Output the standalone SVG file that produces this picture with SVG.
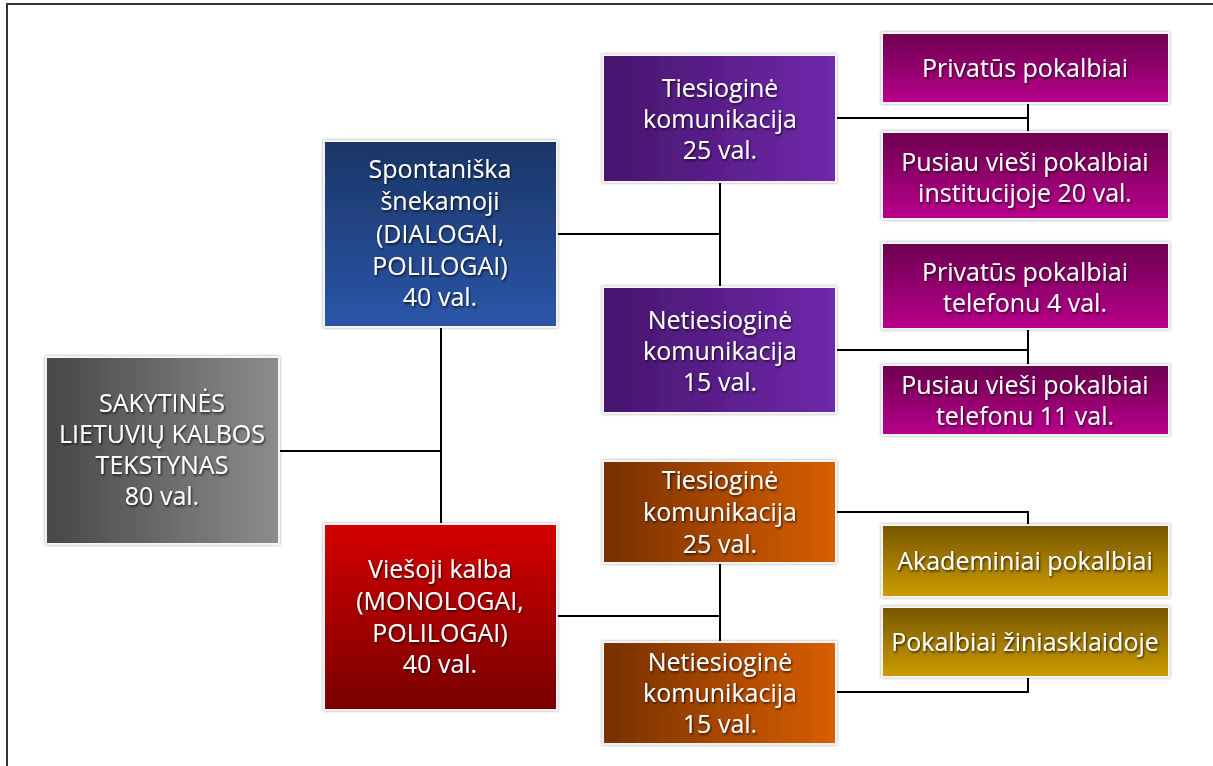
<svg xmlns="http://www.w3.org/2000/svg" width="1213" height="766" viewBox="0 0 1213 766">
<defs>
<linearGradient id="gGray" x1="0" y1="0" x2="1" y2="0"><stop offset="0" stop-color="#474747"/><stop offset="1" stop-color="#8c8c8c"/></linearGradient>
<linearGradient id="gBlue" x1="0" y1="0" x2="0" y2="1"><stop offset="0" stop-color="#1a3566"/><stop offset="1" stop-color="#2b56a8"/></linearGradient>
<linearGradient id="gRed" x1="0" y1="0" x2="0" y2="1"><stop offset="0" stop-color="#d40000"/><stop offset="1" stop-color="#780000"/></linearGradient>
<linearGradient id="gPurple" x1="0" y1="0" x2="1" y2="0"><stop offset="0" stop-color="#46156c"/><stop offset="1" stop-color="#7029ab"/></linearGradient>
<linearGradient id="gMag" x1="0" y1="0" x2="0" y2="1"><stop offset="0" stop-color="#6c004e"/><stop offset="1" stop-color="#b8008c"/></linearGradient>
<linearGradient id="gOrange" x1="0" y1="0" x2="1" y2="0"><stop offset="0" stop-color="#763005"/><stop offset="1" stop-color="#d95f05"/></linearGradient>
<linearGradient id="gGold" x1="0" y1="0" x2="0" y2="1"><stop offset="0" stop-color="#775600"/><stop offset="1" stop-color="#cc9c00"/></linearGradient>
<filter id="boxShadow" x="-10%" y="-10%" width="120%" height="120%">
<feDropShadow dx="0" dy="0" stdDeviation="1.5" flood-color="#000" flood-opacity="0.35"/>
</filter>
<filter id="txtShadow" x="-10%" y="-30%" width="120%" height="160%">
<feDropShadow dx="1" dy="1.5" stdDeviation="1" flood-color="#000" flood-opacity="0.75"/>
</filter>
</defs>
<style>
.box{stroke:#f4f4f4;stroke-width:2;filter:url(#boxShadow)}
.t{font-family:"Open Sans","Noto Sans","DejaVu Sans",sans-serif;font-size:25px;fill:#fff;text-anchor:middle;filter:url(#txtShadow)}
.c{fill:none;stroke:#000;stroke-width:2}
.frame{fill:none;stroke:#333;stroke-width:2}
</style>
<rect width="1213" height="766" fill="#fff"/>
<path class="frame" d="M7,766 V4 H1213"/>
<g id="connectors">
<path class="c" d="M279,451 H441 M441,327 V524"/>
<path class="c" d="M557,234 H720 M720,182 V287"/>
<path class="c" d="M836,118 H1028 M1028,103 V132"/>
<path class="c" d="M836,350 H1028 M1028,329 V365"/>
<path class="c" d="M557,616 H720 M720,563 V642"/>
<path class="c" d="M836,512 H1028 V525"/>
<path class="c" d="M836,692 H1028 V677"/>
</g>
<g id="root">
<rect class="box" x="46" y="357" width="233" height="187" fill="url(#gGray)"/>
<text class="t"><tspan x="162" y="412">SAKYTINĖS</tspan><tspan x="162" y="443">LIETUVIŲ KALBOS</tspan><tspan x="162" y="474">TEKSTYNAS</tspan><tspan x="162" y="505">80 val.</tspan></text>
</g>
<g id="spontaniska">
<rect class="box" x="324" y="141" width="233" height="186" fill="url(#gBlue)"/>
<text class="t"><tspan x="440" y="178">Spontaniška</tspan><tspan x="440" y="210">šnekamoji</tspan><tspan x="440" y="243">(DIALOGAI,</tspan><tspan x="440" y="275">POLILOGAI)</tspan><tspan x="440" y="306">40 val.</tspan></text>
</g>
<g id="viesoji">
<rect class="box" x="324" y="524" width="233" height="186" fill="url(#gRed)"/>
<text class="t"><tspan x="440" y="578">Viešoji kalba</tspan><tspan x="440" y="610">(MONOLOGAI,</tspan><tspan x="440" y="642">POLILOGAI)</tspan><tspan x="440" y="673">40 val.</tspan></text>
</g>
<g id="tiesiogine1">
<rect class="box" x="603" y="55" width="233" height="127" fill="url(#gPurple)"/>
<text class="t"><tspan x="720" y="97">Tiesioginė</tspan><tspan x="720" y="128">komunikacija</tspan><tspan x="720" y="159">25 val.</tspan></text>
</g>
<g id="netiesiogine1">
<rect class="box" x="603" y="287" width="233" height="126" fill="url(#gPurple)"/>
<text class="t"><tspan x="720" y="329">Netiesioginė</tspan><tspan x="720" y="360">komunikacija</tspan><tspan x="720" y="391">15 val.</tspan></text>
</g>
<g id="tiesiogine2">
<rect class="box" x="603" y="461" width="233" height="102" fill="url(#gOrange)"/>
<text class="t"><tspan x="720" y="489">Tiesioginė</tspan><tspan x="720" y="521">komunikacija</tspan><tspan x="720" y="553">25 val.</tspan></text>
</g>
<g id="netiesiogine2">
<rect class="box" x="603" y="642" width="233" height="102" fill="url(#gOrange)"/>
<text class="t"><tspan x="720" y="671">Netiesioginė</tspan><tspan x="720" y="702">komunikacija</tspan><tspan x="720" y="733">15 val.</tspan></text>
</g>
<g id="privatus">
<rect class="box" x="882" y="33" width="287" height="70" fill="url(#gMag)"/>
<text class="t" x="1025" y="77">Privatūs pokalbiai</text>
</g>
<g id="pusiau-institucijoje">
<rect class="box" x="882" y="132" width="287" height="87" fill="url(#gMag)"/>
<text class="t"><tspan x="1025" y="171">Pusiau vieši pokalbiai</tspan><tspan x="1025" y="202">institucijoje 20 val.</tspan></text>
</g>
<g id="privatus-telefonu">
<rect class="box" x="882" y="243" width="287" height="86" fill="url(#gMag)"/>
<text class="t"><tspan x="1025" y="281">Privatūs pokalbiai</tspan><tspan x="1025" y="312">telefonu 4 val.</tspan></text>
</g>
<g id="pusiau-telefonu">
<rect class="box" x="882" y="365" width="287" height="70" fill="url(#gMag)"/>
<text class="t"><tspan x="1025" y="394">Pusiau vieši pokalbiai</tspan><tspan x="1025" y="425">telefonu 11 val.</tspan></text>
</g>
<g id="akademiniai">
<rect class="box" x="882" y="525" width="287" height="72" fill="url(#gGold)"/>
<text class="t" x="1025" y="570">Akademiniai pokalbiai</text>
</g>
<g id="ziniasklaidoje">
<rect class="box" x="882" y="607" width="287" height="70" fill="url(#gGold)"/>
<text class="t" x="1025" y="651">Pokalbiai žiniasklaidoje</text>
</g>
</svg>
